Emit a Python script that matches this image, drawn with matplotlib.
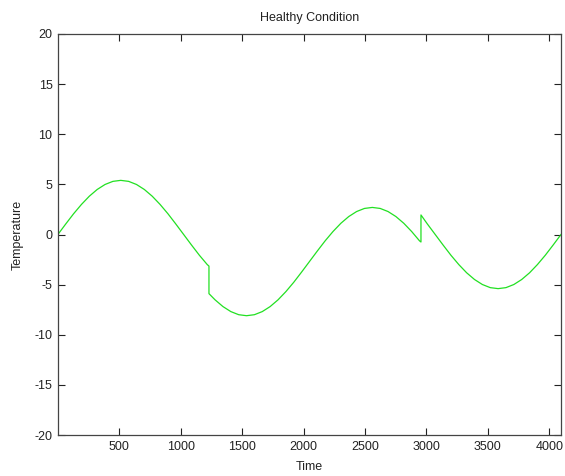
import matplotlib
matplotlib.use("Agg")
import matplotlib.pyplot as plt

plt.rcParams['font.family'] = ['Liberation Sans', 'DejaVu Sans']
plt.rcParams['axes.unicode_minus'] = False

# Segment 1 (before first discontinuity)
time_a = [0, 64, 128, 192, 256, 320, 384, 448, 512, 576, 640, 704, 768, 832,
          896, 960, 1024, 1088, 1152, 1216, 1230]
temp_a = [0.0, 1.05, 2.07, 3.00, 3.82, 4.49, 4.99, 5.30, 5.40, 5.30, 4.99,
          4.49, 3.82, 3.00, 2.07, 1.05, 0.0, -1.05, -2.07, -3.00, -3.15]

# Segment 2 (between the two discontinuities)
time_b = [1230, 1280, 1344, 1408, 1472, 1536, 1600, 1664, 1728, 1792, 1856,
          1920, 1984, 2048, 2112, 2176, 2240, 2304, 2368, 2432, 2496, 2560,
          2624, 2688, 2752, 2816, 2880, 2944, 2956]
temp_b = [-5.90, -6.52, -7.19, -7.69, -8.00, -8.10, -8.00, -7.69, -7.19, -6.52,
          -5.70, -4.77, -3.75, -2.70, -1.65, -0.63, 0.30, 1.12, 1.79, 2.29,
          2.60, 2.70, 2.60, 2.29, 1.79, 1.12, 0.30, -0.63, -0.75]

# Segment 3 (after second discontinuity)
time_c = [2956, 3008, 3072, 3136, 3200, 3264, 3328, 3392, 3456, 3520, 3584,
          3648, 3712, 3776, 3840, 3904, 3968, 4032, 4096]
temp_c = [1.95, 1.05, 0.0, -1.05, -2.07, -3.00, -3.82, -4.49, -4.99, -5.30,
          -5.40, -5.30, -4.99, -4.49, -3.82, -3.00, -2.07, -1.05, 0.0]

x_ticks = [500, 1000, 1500, 2000, 2500, 3000, 3500, 4000]
y_ticks = [-20, -15, -10, -5, 0, 5, 10, 15, 20]

time = time_a + time_b + time_c
temp = temp_a + temp_b + temp_c

fig = plt.figure(figsize=(5.65, 4.76), dpi=100)
ax = fig.add_axes([58 / 565, 1 - 435 / 476, 503 / 565, 401 / 476])
ax.plot(time, temp, color='#22e022', linewidth=0.9)

ax.set_xlim(1, 4096)
ax.set_ylim(-20, 20)
ax.set_xticks(x_ticks)
ax.set_yticks(y_ticks)
ax.tick_params(direction='in', length=5, width=0.8, top=True, right=True,
               labelsize=9, colors='#222222', pad=4)
for s in ax.spines.values():
    s.set_color('#444444')
    s.set_linewidth(0.9)

ax.set_title('Healthy Condition', fontsize=9, pad=9, color='#222222')
ax.set_xlabel('Time', fontsize=9, labelpad=6, color='#222222')
ax.set_ylabel('Temperature', fontsize=9, labelpad=8, color='#222222')

fig.savefig('out.png', dpi=100)
